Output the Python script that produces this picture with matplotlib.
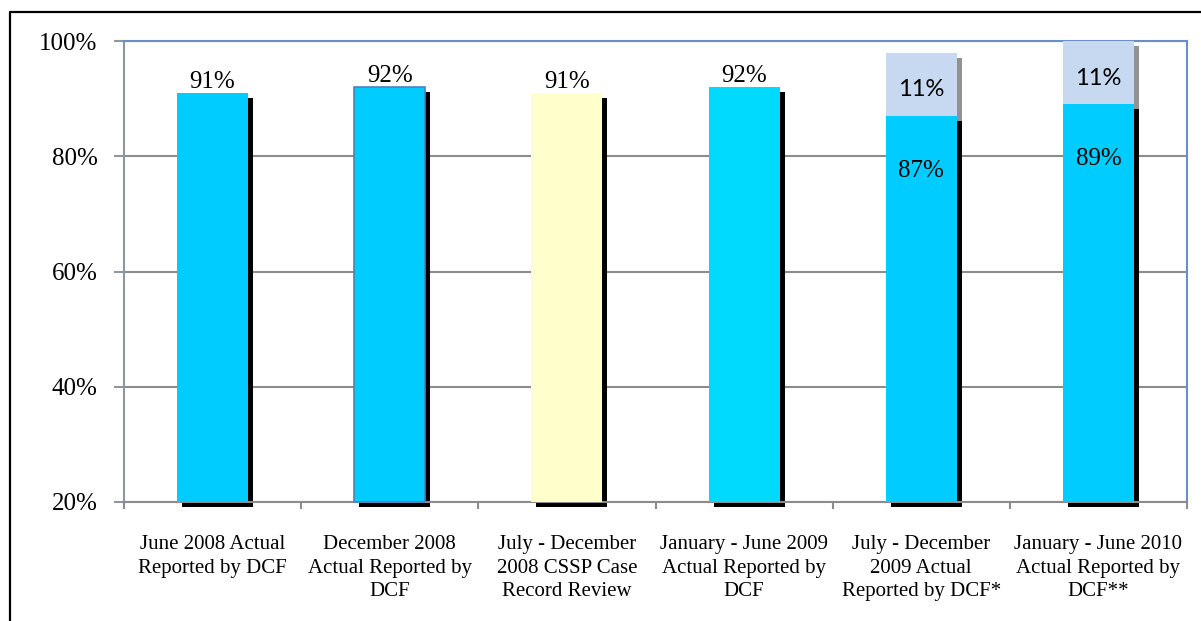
import matplotlib
matplotlib.use("Agg")
import matplotlib.pyplot as plt
from matplotlib.transforms import ScaledTranslation
from matplotlib.lines import Line2D

# Data
categories = [
    "June 2008 Actual\nReported by DCF",
    "December 2008\nActual Reported by\nDCF",
    "July - December\n2008 CSSP Case\nRecord Review",
    "January - June 2009\nActual Reported by\nDCF",
    "July - December\n2009 Actual\nReported by DCF*",
    "January - June 2010\nActual Reported by\nDCF**",
]
main_values = [91, 92, 91, 92, 87, 89]
extra_values = [0, 0, 0, 0, 11, 11]
y_ticks = [20, 40, 60, 80, 100]

bar_colors = ["#00CCFF", "#00CCFF", "#FFFFCC", "#00DAFF", "#00CCFF", "#00CCFF"]
extra_color = "#C6D9F1"
serif = "Liberation Serif"

W, H = 1201, 621
fig = plt.figure(figsize=(W / 100, H / 100), dpi=100)
ax = fig.add_axes([124 / W, 1 - 502 / H, (1187 - 124) / W, (502 - 41) / H])

base = y_ticks[0]
x = list(range(len(categories)))
width = 0.40

# drop shadows: same bars, shifted right/down by 5 px
shift = ax.transData + ScaledTranslation(5 / 100, -5 / 100, fig.dpi_scale_trans)
main_heights = [v - base for v in main_values]
shadow = ax.bar(x, main_heights, width, bottom=base, color="black",
                zorder=2, clip_on=False)
for p in shadow:
    p.set_transform(shift)
stacked = [i for i, e in enumerate(extra_values) if e > 0]
shadow2 = ax.bar([x[i] for i in stacked], [extra_values[i] for i in stacked], width,
                 bottom=[main_values[i] for i in stacked], color="#929292",
                 zorder=2.1, clip_on=False)
for p in shadow2:
    p.set_transform(shift)

bars = ax.bar(x, main_heights, width, bottom=base, color=bar_colors,
              zorder=3, clip_on=False)
bars[1].set_edgecolor("#4F81BD")
bars[1].set_linewidth(1.2)
tops = ax.bar([x[i] for i in stacked], [extra_values[i] for i in stacked], width,
              bottom=[main_values[i] for i in stacked], color=extra_color,
              zorder=3, clip_on=False)

# value labels
for i, v in enumerate(main_values):
    if extra_values[i] > 0:
        ax.text(x[i], v - 9.5, f"{v}%", ha="center", va="center",
                fontsize=18, family=serif, zorder=5)
        ax.text(x[i], v + 4.5, f"{extra_values[i]}%", ha="center", va="center",
                fontsize=17, family="Lato", zorder=5)
    else:
        ax.annotate(f"{v}%", (x[i], v), xytext=(0, 0), textcoords="offset points",
                    ha="center", va="bottom", fontsize=18, family=serif, zorder=5)

# axes
ax.set_xlim(-0.5, len(categories) - 0.5)
ax.set_ylim(base, 100)
ax.set_yticks(y_ticks)
ax.set_yticklabels([f"{t}%" for t in y_ticks], fontsize=18, family=serif)
ax.tick_params(axis="y", length=7, width=1.5, color="#8E96A0", pad=12)
ax.set_xticks(x)
ax.set_xticklabels(categories, fontsize=15, family=serif, linespacing=1.3)
ax.tick_params(axis="x", which="major", length=0, pad=24)
ax.set_xticks([i - 0.5 for i in range(len(categories) + 1)], minor=True)
ax.tick_params(axis="x", which="minor", length=5, width=1.5, color="#8C8C8C")

ax.yaxis.grid(True, color="#8C8C8C", linewidth=1.5, zorder=0)
ax.set_axisbelow(True)
for s in ("left", "bottom"):
    ax.spines[s].set_color("#8E96A0")
    ax.spines[s].set_linewidth(1.5)
ax.spines["bottom"].set_color("#8C8C8C")
for s in ("top", "right"):
    ax.spines[s].set_color("#6A8FC8")
    ax.spines[s].set_linewidth(1.5)

# outer chart frame (top and left edges)
fig.add_artist(Line2D([10 / W, 10 / W, 1.0], [0.0, 1 - 12 / H, 1 - 12 / H],
                      transform=fig.transFigure, color="black", linewidth=1.6))

fig.savefig("out.png", dpi=100)
